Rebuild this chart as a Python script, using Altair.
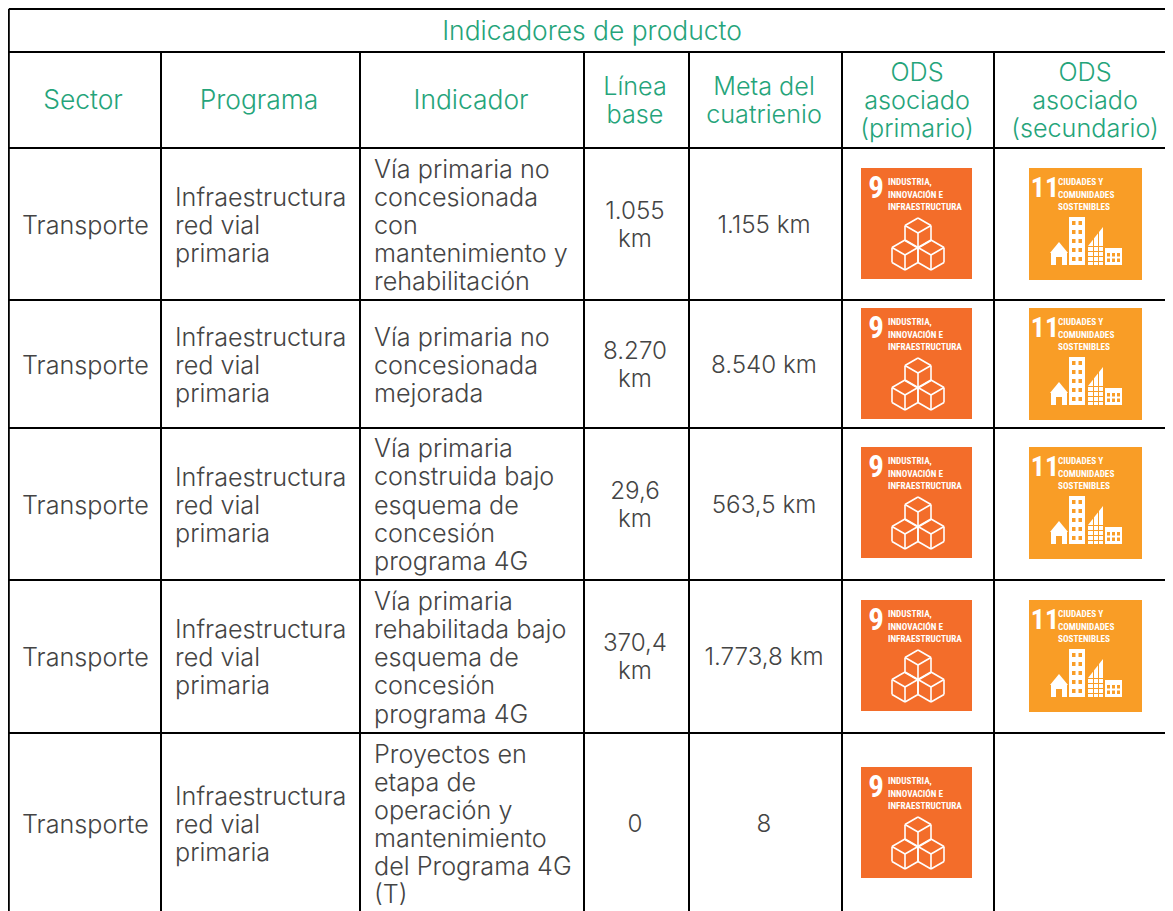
import altair as alt
import pandas as pd

FONT = "Inter"
GREEN = "#25a47a"
DARK = "#444444"
ORANGE9 = "#f36d2a"
ORANGE11 = "#f99d26"

# table grid
col_edges = [8.8, 161, 360, 584, 689, 842, 994]
row_edges = [52, 148, 300, 428, 580, 733]
table_top = 9
table_bottom = 911
table_right = 1173

# headers on one line
title_text = ["Indicadores de producto", "Sector", "Programa", "Indicador"]
title_x = [592, 83, 259, 471]
title_y = [32, 101, 101, 101]
# headers stacked on several lines
header_text = ["Línea", "base", "Meta del", "cuatrienio", "ODS", "asociado", "(primario)",
               "ODS", "asociado", "(secundario)"]
header_x = [635, 635, 764, 764, 917, 917, 917, 1085, 1085, 1085]
header_y = [87, 115, 87, 115, 73, 101, 129, 73, 101, 129]

sector_y = [226, 366, 506, 658, 825]
programa_y = [198, 226, 254, 338, 366, 394, 478, 506, 534, 630, 658, 686, 797, 825, 853]
programa_text = ["Infraestructura", "red vial", "primaria"] * 5

ind_text = ["Vía primaria no", "concesionada", "con", "mantenimiento y", "rehabilitación",
            "Vía primaria no", "concesionada", "mejorada",
            "Vía primaria", "construida bajo", "esquema de", "concesión", "programa 4G",
            "Vía primaria", "rehabilitada bajo", "esquema de", "concesión", "programa 4G",
            "Proyectos en", "etapa de", "operación y", "mantenimiento", "del Programa 4G", "(T)"]
ind_y = [170, 198, 226, 254, 282, 338, 366, 394, 449, 477, 506, 534, 562,
         602, 630, 658, 686, 715, 755, 783, 811, 839, 867, 895]

base_text = ["1.055", "km", "8.270", "km", "29,6", "km", "370,4", "km", "0"]
base_y = [212, 240, 352, 380, 492, 520, 644, 672, 825]
meta_text = ["1.155 km", "8.540 km", "563,5 km", "1.773,8 km", "8"]
meta_y = [226, 366, 506, 658, 825]

# SDG icons: top of each tile
icon9_top = [168, 308, 447, 600, 767]
icon11_top = [168, 308, 447, 600]
icon9_x, icon9_w, icon9_h = 861, 111, 111
icon11_x, icon11_w, icon11_h = 1029, 113, 112

X = alt.X("x:Q", scale=alt.Scale(domain=[8, 1165], nice=False), axis=None)
Y = alt.Y("y:Q", scale=alt.Scale(domain=[911, 8], nice=False), axis=None)
X2 = alt.X2("x2:Q")
Y2 = alt.Y2("y2:Q")

# ---- grid
grid = []
for x in col_edges:
    grid.append(dict(x=x, x2=x, y=table_top if x == col_edges[0] else 52, y2=table_bottom))
for y in [table_top] + row_edges:
    grid.append(dict(x=col_edges[0], x2=table_right, y=y, y2=y))
grid_layer = alt.Chart(pd.DataFrame(grid)).mark_rule(color="#000000", strokeWidth=2, clip=True).encode(
    x=X, y=Y, x2=X2, y2=Y2)

# ---- text
def text_layer(texts, xs, ys, color, align="center", size=25.2):
    df = pd.DataFrame(dict(t=texts, x=xs, y=ys))
    return alt.Chart(df).mark_text(font=FONT, fontSize=size, fontWeight=300, color=color,
                                   align=align, baseline="middle").encode(x=X, y=Y, text="t:N")

text_layers = [
    text_layer(title_text, title_x, title_y, GREEN, size=26.4),
    text_layer(header_text, header_x, header_y, GREEN, size=25.2),
    text_layer(["Transporte"] * 5, [22] * 5, sector_y, DARK, "left"),
    text_layer(programa_text, [175] * 15, programa_y, DARK, "left"),
    text_layer(ind_text, [374] * len(ind_text), ind_y, DARK, "left"),
    text_layer(base_text, [635] * len(base_text), base_y, DARK, size=24.2),
    text_layer(meta_text, [764] * 5, meta_y, DARK, size=24.2),
]

# ---- icons
tile9 = pd.DataFrame([dict(x=icon9_x, x2=icon9_x + icon9_w, y=t, y2=t + icon9_h) for t in icon9_top])
tile11 = pd.DataFrame([dict(x=icon11_x, x2=icon11_x + icon11_w, y=t, y2=t + icon11_h) for t in icon11_top])
tile_layers = [
    alt.Chart(tile9).mark_rect(color=ORANGE9).encode(x=X, y=Y, x2=X2, y2=Y2),
    alt.Chart(tile11).mark_rect(color=ORANGE11).encode(x=X, y=Y, x2=X2, y2=Y2),
]

icon_text_rows, icon_num_rows, icon_num11_rows = [], [], []
for t in icon9_top:
    icon_num_rows.append(dict(t="9", x=icon9_x + 15, y=t + 21))
    for i, s in enumerate(["INDUSTRIA,", "INNOVACIÓN E", "INFRAESTRUCTURA"]):
        icon_text_rows.append(dict(t=s, x=icon9_x + 27, y=t + 14 + i * 12.5))
for t in icon11_top:
    icon_num11_rows.append(dict(t="11", x=icon11_x + 16, y=t + 21))
    for i, s in enumerate(["CIUDADES Y", "COMUNIDADES", "SOSTENIBLES"]):
        icon_text_rows.append(dict(t=s, x=icon11_x + 29, y=t + 14 + i * 12.5))
ICON_FONT = "Roboto Condensed, DejaVu Sans Condensed, Liberation Sans"
icon_text = alt.Chart(pd.DataFrame(icon_text_rows)).mark_text(
    font=ICON_FONT, fontSize=9.2, fontWeight="bold", color="#ffffff",
    align="left", baseline="middle").encode(x=X, y=Y, text="t:N")
icon_num = alt.Chart(pd.DataFrame(icon_num_rows)).mark_text(
    font=ICON_FONT, fontSize=31, fontWeight="bold", color="#ffffff",
    align="center", baseline="middle").encode(x=X, y=Y, text="t:N")
icon_num11 = alt.Chart(pd.DataFrame(icon_num11_rows)).mark_text(
    font=ICON_FONT, fontSize=28, fontWeight="bold", color="#ffffff",
    align="center", baseline="middle").encode(x=X, y=Y, text="t:N")

# cubes on tile 9: centres of each hexagon relative to the tile
cube_centres = [(57, 65), (44, 87), (70, 87)]
cube_dx, cube_dy, cube_top = 13, 7.5, 15
seg = []
for t in icon9_top:
    for cx, cy in cube_centres:
        cx0, cy0 = icon9_x + cx, t + cy
        pts = [(cx0, cy0 - cube_top), (cx0 + cube_dx, cy0 - cube_dy), (cx0 + cube_dx, cy0 + cube_dy),
               (cx0, cy0 + cube_top), (cx0 - cube_dx, cy0 + cube_dy), (cx0 - cube_dx, cy0 - cube_dy)]
        for a in range(6):
            b = (a + 1) % 6
            seg.append(dict(x=pts[a][0], y=pts[a][1], x2=pts[b][0], y2=pts[b][1]))
        for p in (pts[1], pts[3], pts[5]):
            seg.append(dict(x=cx0, y=cy0, x2=p[0], y2=p[1]))
cube_layer = alt.Chart(pd.DataFrame(seg)).mark_rule(color="#ffffff", strokeWidth=1.6).encode(
    x=X, y=Y, x2=X2, y2=Y2)

# city on tile 11, offsets relative to the tile
white_rects, win_rects, roofs = [], [], []
for t in icon11_top:
    ox, oy = icon11_x, t
    # tall building
    white_rects.append(dict(x=ox + 40, x2=ox + 56, y=oy + 49, y2=oy + 97))
    for r in range(5):
        for c in range(2):
            win_rects.append(dict(x=ox + 43 + c * 6.5, x2=ox + 46.5 + c * 6.5,
                                  y=oy + 53 + r * 9, y2=oy + 57 + r * 9))
    # small building
    white_rects.append(dict(x=ox + 76, x2=ox + 93, y=oy + 80, y2=oy + 97))
    for r in range(2):
        for c in range(3):
            win_rects.append(dict(x=ox + 78 + c * 5, x2=ox + 81 + c * 5,
                                  y=oy + 85 + r * 5.5, y2=oy + 88.5 + r * 5.5))
    # house body and door
    white_rects.append(dict(x=ox + 22, x2=ox + 38, y=oy + 85, y2=oy + 97))
    win_rects.append(dict(x=ox + 27, x2=ox + 33, y=oy + 89, y2=oy + 97))
    # wedge building: window bars
    for r in range(4):
        win_rects.append(dict(x=ox + 59, x2=ox + 74, y=oy + 78 + r * 5, y2=oy + 79 + r * 5))
    for c in range(2):
        win_rects.append(dict(x=ox + 64 + c * 5, x2=ox + 65 + c * 5, y=oy + 60, y2=oy + 97))
    # house roof and wedge outline
    for dx, dy in [(21, 85), (30, 74), (39, 85)]:
        roofs.append(dict(g=f"h{t}", x=ox + dx, y=oy + dy, y2=oy + 85))
    for dx, dy in [(59, 78), (74, 59)]:
        roofs.append(dict(g=f"w{t}", x=ox + dx, y=oy + dy, y2=oy + 97))

roof_layer = alt.Chart(pd.DataFrame(roofs)).mark_area(color="#ffffff", opacity=1).encode(
    x=X, y=Y, y2=Y2, detail="g:N")
white_layer = alt.Chart(pd.DataFrame(white_rects)).mark_rect(color="#ffffff").encode(x=X, y=Y, x2=X2, y2=Y2)
win_layer = alt.Chart(pd.DataFrame(win_rects)).mark_rect(color=ORANGE11).encode(x=X, y=Y, x2=X2, y2=Y2)

chart = alt.layer(
    *tile_layers, roof_layer, white_layer, win_layer, cube_layer, icon_text, icon_num, icon_num11,
    grid_layer, *text_layers
).properties(
    width=1157, height=903,
    padding=0,
    autosize=alt.AutoSizeParams(type="none"),
).configure_view(stroke=None)

chart.save("out.html", embed_options={"renderer": "svg", "actions": False})
